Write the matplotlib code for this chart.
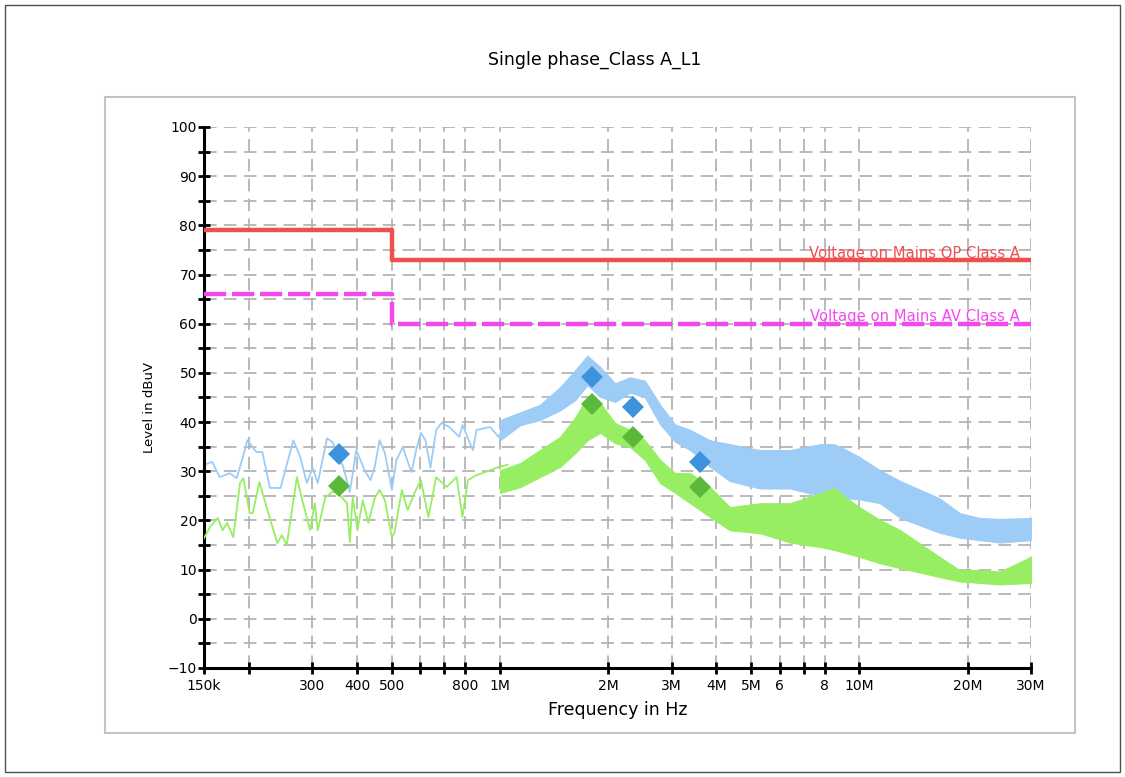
import numpy as np
import matplotlib
matplotlib.use("Agg")
import matplotlib.pyplot as plt
from matplotlib.patches import Rectangle
from matplotlib.ticker import FixedLocator, NullLocator, MultipleLocator

# limites (Class A, tensao na rede)
lim_f = [150e3, 500e3, 30e6]
lim_qp = [79, 73, 73]
lim_av = [66, 60, 60]

# varredura, faixa baixa (linha), kHz / dBuV
qp_low_khz = [150, 158, 166, 177, 185, 195, 198, 210, 218, 229, 245, 266, 278, 290,
              301, 311, 330, 342, 366, 382, 398, 420, 436, 448, 462, 478, 500, 515,
              536, 567, 584, 602, 620, 640, 664, 687, 722, 770, 786, 840, 860, 938,
              990, 1050]
qp_low_db = [31.3, 31.9, 28.8, 29.6, 28.6, 34.3, 36.3, 33.9, 33.9, 26.6, 26.6, 36.3,
             32.9, 27.6, 30.7, 27.6, 36.7, 35.9, 30.9, 25.8, 34.3, 30.2, 28.2, 30.9,
             36.3, 33.7, 26.2, 32.3, 34.9, 29.8, 34.3, 37.8, 36.3, 30.7, 38.4, 39.8,
             39.0, 37.0, 39.4, 34.3, 38.4, 39.0, 37.0, 40.4]

av_low_khz = [150, 156, 164, 169, 174, 181, 189, 193, 201, 205, 214, 224, 240, 247,
              255, 272, 280, 296, 305, 311, 326, 341, 354, 375, 382, 389, 401, 415,
              430, 448, 462, 478, 500, 508, 533, 553, 578, 602, 632, 664, 710, 757,
              786, 814, 860, 938, 993, 1050]
av_low_db = [16.4, 18.7, 20.5, 18.0, 19.5, 16.6, 27.6, 28.6, 21.5, 21.5, 27.8, 22.7,
             15.4, 17.0, 15.0, 28.8, 24.8, 18.0, 23.5, 18.0, 24.6, 25.8, 25.6, 23.5,
             15.6, 24.8, 18.0, 24.1, 19.5, 24.6, 26.2, 24.1, 16.6, 17.4, 26.2, 22.1,
             25.6, 28.2, 20.7, 28.8, 26.8, 28.8, 20.7, 28.2, 29.2, 30.2, 30.9, 31.3]

# faixa alta (envoltoria do ruido), MHz
band_mhz = [1.0, 1.14, 1.29, 1.47, 1.62, 1.75, 1.90, 2.09, 2.30, 2.53, 2.79, 3.07,
            3.38, 3.84, 4.36, 5.29, 6.41, 7.76, 8.5, 9.11, 10.0, 11.4, 13.0, 16.7,
            19.0, 21.6, 24.6, 30.0]
qp_hi = [40.4, 42.0, 43.5, 47.1, 50.6, 53.5, 51.2, 47.9, 49.1, 48.4, 43.5, 39.5,
         38.4, 36.3, 35.5, 34.3, 34.3, 35.5, 35.5, 34.5, 32.9, 30.2, 28.0, 24.5,
         21.5, 20.5, 20.3, 20.5]
qp_lo = [36.3, 39.4, 40.4, 42.4, 44.5, 47.5, 45.1, 44.1, 46.0, 45.0, 39.5, 36.0,
         34.3, 30.9, 28.0, 26.5, 26.5, 25.0, 25.0, 24.5, 24.3, 23.5, 20.5, 17.5,
         16.5, 16.0, 15.5, 16.0]
av_hi = [30.2, 31.7, 34.3, 37.0, 41.0, 45.1, 43.9, 39.8, 38.4, 36.3, 32.3, 29.6,
         29.6, 26.8, 22.7, 23.5, 23.5, 25.5, 26.6, 24.8, 22.7, 20.1, 18.0, 12.6,
         9.9, 9.9, 9.6, 12.6]
av_lo = [25.6, 26.8, 28.8, 30.9, 33.7, 36.3, 37.8, 35.7, 34.9, 32.3, 27.6, 25.6,
         23.5, 20.7, 18.0, 17.4, 15.5, 14.6, 14.0, 13.4, 12.6, 11.3, 10.3, 8.5,
         7.6, 7.3, 7.0, 7.3]

# medidas finais
mk_f = [357e3, 1.80e6, 2.34e6, 3.6e6]
mk_qp = [33.5, 49.1, 43.0, 31.9]
mk_av = [27.0, 43.7, 36.9, 26.8]

xt = [150e3, 200e3, 300e3, 400e3, 500e3, 600e3, 700e3, 800e3, 1e6, 2e6, 3e6, 4e6,
      5e6, 6e6, 7e6, 8e6, 10e6, 20e6, 30e6]
xt_lbl = ['150k', '', '300', '400', '500', '', '', '800', '1M', '2M', '3M', '4M',
          '5M', '6', '', '8', '10M', '20M', '30M']

c_qp = '#9dccf6'
c_av = '#98ee62'

fig = plt.figure(figsize=(11.25, 7.77), dpi=100)
fig.patches.append(Rectangle((0.0044, 0.0064), 0.991, 0.987, transform=fig.transFigure,
                             fill=False, ec='#505050', lw=1))
fig.patches.append(Rectangle((0.0933, 0.0566), 0.8622, 0.8185, transform=fig.transFigure,
                             fill=False, ec='#c4c4c4', lw=1.5))

ax = fig.add_axes([0.1813, 0.1403, 0.7351, 0.6963])
ax.set_xscale('log')
ax.set_xlim(150e3, 30e6)
ax.set_ylim(-10, 100)

bf = np.array(band_mhz) * 1e6
ax.fill_between(bf, qp_lo, qp_hi, color=c_qp, lw=0.8, zorder=2)
ax.plot(np.array(qp_low_khz) * 1e3, qp_low_db, color=c_qp, lw=1.3, zorder=2)
ax.fill_between(bf, av_lo, av_hi, color=c_av, lw=0.8, zorder=3)
ax.plot(np.array(av_low_khz) * 1e3, av_low_db, color=c_av, lw=1.3, zorder=3)

ax.step(lim_f, lim_qp, where='post', color='#ef4f4f', lw=3.2, zorder=4)
ax.step(lim_f, lim_av, where='post', color='#f448ef', lw=3.2, dashes=(5, 1.3), zorder=4)
ax.text(27.9e6, 73.4, 'Voltage on Mains QP Class A', color='#ef4f4f', ha='right',
        va='baseline', fontsize=10.6, zorder=5)
ax.text(27.9e6, 60.6, 'Voltage on Mains AV Class A', color='#f448ef', ha='right',
        va='baseline', fontsize=10.6, zorder=5)

ax.plot(mk_f, mk_qp, 'D', color='#3d92dd', ms=11, mew=0, zorder=6)
ax.plot(mk_f, mk_av, 'D', color='#5bb83a', ms=11, mew=0, zorder=6)

ax.xaxis.set_major_locator(FixedLocator(xt))
ax.set_xticklabels(xt_lbl)
ax.xaxis.set_minor_locator(NullLocator())
ax.yaxis.set_major_locator(MultipleLocator(10))
ax.yaxis.set_minor_locator(MultipleLocator(5))
ax.tick_params(which='both', direction='inout', length=8, width=2, labelsize=10)
ax.tick_params(axis='y', pad=1)
ax.tick_params(axis='x', pad=4)

ax.grid(True, which='both', color='#b4b4b4', lw=1.3, dashes=(7, 4))
ax.set_axisbelow(True)
for s in ['top', 'right']:
    ax.spines[s].set_visible(False)
for s in ['left', 'bottom']:
    ax.spines[s].set_linewidth(2.2)

ax.set_xlabel('Frequency in Hz', fontsize=12.5, labelpad=6)
fig.text(0.133, 0.476, 'Level in dBuV', rotation=90, ha='center', va='center', fontsize=9.5)
fig.text(0.529, 0.923, 'Single phase_Class A_L1', ha='center', va='center', fontsize=12.5)

fig.savefig('out.png', dpi=100)
